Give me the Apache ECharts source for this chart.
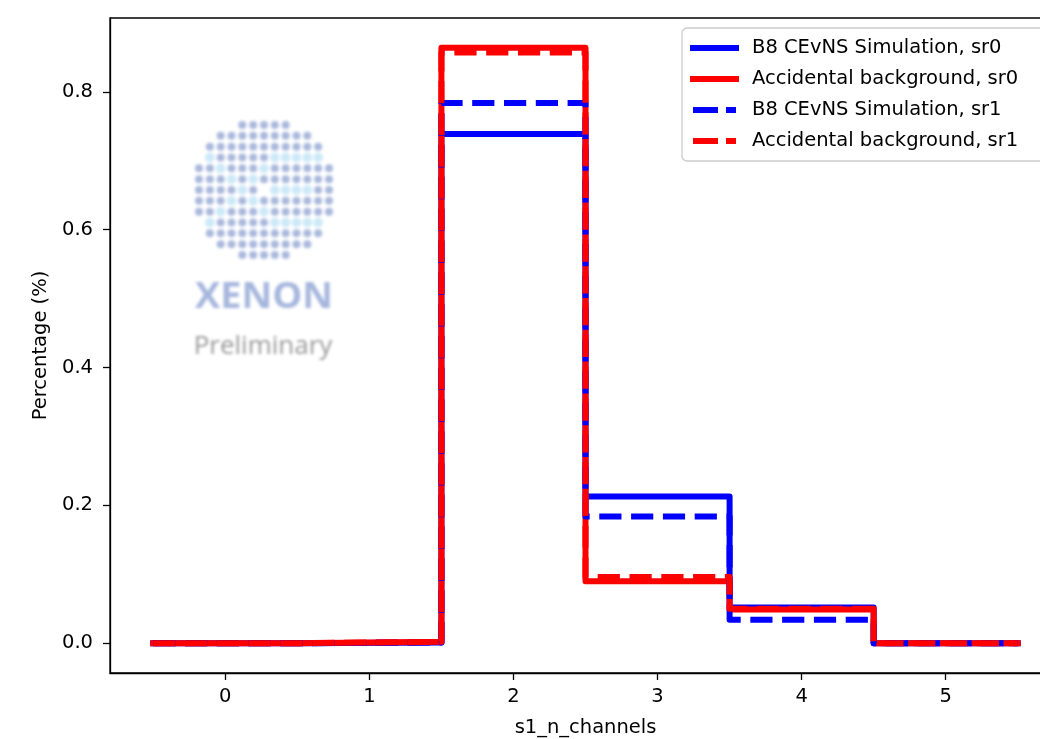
<!DOCTYPE html>
<html>
<head>
<meta charset="utf-8">
<script src="https://cdn.jsdelivr.net/npm/echarts@6/dist/echarts.min.js"></script>
<style>
  html, body { margin: 0; padding: 0; background: #fff; }
  #wrap { position: relative; width: 1040px; height: 739px; overflow: hidden; }
  #chart { position: absolute; left: 0; top: 0; width: 1061px; height: 739px; }
  #logo { position: absolute; left: 0; top: 0; width: 1040px; height: 739px; pointer-events: none; filter: blur(1.5px); }
</style>
</head>
<body>
<div id="wrap">
  <div id="chart"></div>
  <div id="logo"></div>
</div>
<script>
// Histogram bin edges (s1_n_channels, unit-width bins centred on integers)
const binEdges = [-0.5, 0.5, 1.5, 2.5, 3.5, 4.5, 5.5];

// Normalised bin contents per science run
const b8Sr0  = [0, 0.001, 0.739, 0.213, 0.052, 0];
const accSr0 = [0, 0.002, 0.864, 0.090, 0.049, 0];
const b8Sr1  = [0, 0.001, 0.784, 0.184, 0.034, 0];
const accSr1 = [0, 0.002, 0.857, 0.096, 0.050, 0];

const seriesNames = [
  'B8 CEvNS Simulation, sr0',
  'Accidental background, sr0',
  'B8 CEvNS Simulation, sr1',
  'Accidental background, sr1'
];

const xTicks = [0, 1, 2, 3, 4, 5];
const yTicks = [0, 0.2, 0.4, 0.6, 0.8];

// Outline of a step histogram: up from zero at the first edge, across each bin, down at the last edge
function stepOutline(values) {
  const pts = [[binEdges[0], 0]];
  values.forEach(function (v, i) {
    pts.push([binEdges[i], v]);
    pts.push([binEdges[i + 1], v]);
  });
  pts.push([binEdges[binEdges.length - 1], 0]);
  return pts;
}

const FONT = 'DejaVu Sans';
const LW = 6;
const DASH = [3.7 * LW, 1.6 * LW];
// legend handle: short inset, long dash, gap, short dash
const LEGEND_DASH = [0, 3, 25, 8, 10, 100];

function stepSeries(name, values, color, dashed) {
  return {
    name: name,
    type: 'line',
    data: stepOutline(values),
    symbol: 'none',
    animation: false,
    lineStyle: {
      color: color,
      width: LW,
      type: dashed ? DASH : 'solid',
      join: 'round',
      cap: dashed ? 'butt' : 'square'
    },
    itemStyle: { color: color }
  };
}

function legendEntry(name, dashed) {
  return { name: name, lineStyle: { width: LW, type: dashed ? LEGEND_DASH : 'solid', cap: 'butt' } };
}

const chart = echarts.init(document.getElementById('chart'), null, { renderer: 'canvas' });
chart.setOption({
  backgroundColor: '#ffffff',
  animation: false,
  grid: {
    left: 110, top: 18, right: 0, bottom: 66,
    outerBoundsMode: 'none', containLabel: false,
    show: true, borderColor: '#000', borderWidth: 1.3, backgroundColor: 'transparent'
  },
  xAxis: {
    type: 'value', min: -0.8, max: 5.8,
    axisLine: { show: true, onZero: false, lineStyle: { color: '#000', width: 1.3 } },
    axisTick: { show: true, inside: false, length: 7, customValues: xTicks, lineStyle: { color: '#000', width: 1.3 } },
    axisLabel: { customValues: xTicks, color: '#000', fontFamily: FONT, fontSize: 19.5, margin: 14,
                 formatter: function (v) { return String(v); } },
    splitLine: { show: false },
    name: 's1_n_channels', nameLocation: 'middle', nameGap: 45,
    nameTextStyle: { color: '#000', fontFamily: FONT, fontSize: 19.5 }
  },
  yAxis: {
    type: 'value', min: -0.0432, max: 0.9072,
    axisLine: { show: true, onZero: false, lineStyle: { color: '#000', width: 1.3 } },
    axisTick: { show: true, inside: false, length: 7, customValues: yTicks, lineStyle: { color: '#000', width: 1.3 } },
    axisLabel: { customValues: yTicks, color: '#000', fontFamily: FONT, fontSize: 19.5, margin: 17,
                 formatter: function (v) { return v.toFixed(1); } },
    splitLine: { show: false },
    name: 'Percentage (%)', nameLocation: 'middle', nameGap: 57, nameRotate: 90,
    nameTextStyle: { color: '#000', fontFamily: FONT, fontSize: 19.5 }
  },
  legend: {
    orient: 'vertical',
    left: 682, top: 28,
    padding: [10, 80, 10, 5],
    itemWidth: 49, itemHeight: 0.1, itemGap: 11,
    backgroundColor: 'rgba(255,255,255,0.8)',
    borderColor: '#cccccc', borderWidth: 1.3, borderRadius: 5,
    textStyle: { color: '#000', fontFamily: FONT, fontSize: 19.5, lineHeight: 20, padding: [0, 0, 0, 8] },
    data: [
      legendEntry(seriesNames[0], false),
      legendEntry(seriesNames[1], false),
      legendEntry(seriesNames[2], true),
      legendEntry(seriesNames[3], true)
    ]
  },
  series: [
    stepSeries(seriesNames[0], b8Sr0, '#0000ff', false),
    stepSeries(seriesNames[1], accSr0, '#ff0000', false),
    stepSeries(seriesNames[2], b8Sr1, '#0000ff', true),
    stepSeries(seriesNames[3], accSr1, '#ff0000', true)
  ]
});

// Collaboration watermark: dotted disc with the logo mark, name and "Preliminary"
const logo = echarts.init(document.getElementById('logo'), null, { renderer: 'canvas' });
const rowCounts = [5, 9, 11, 11, 13, 13, 13, 13, 13, 11, 11, 9, 5];
const highlight = {
  3: [1, 7, 8, 9, 10, 11],
  4: [2, 6],
  5: [3, 5],
  6: [4, 7, 8, 9, 10],
  7: [3, 5],
  8: [2, 6],
  9: [1, 7, 8, 9, 10, 11]
};
const cx = 264, cy = 190, pitch = 10.83;
const dots = [];
rowCounts.forEach(function (n, r) {
  const first = (13 - n) / 2;
  for (let k = 0; k < n; k++) {
    const c = first + k;
    if (r === 6 && c === 6) continue;
    const hl = highlight[r] && highlight[r].indexOf(c) >= 0;
    dots.push({
      type: 'circle',
      shape: { cx: cx + (c - 6) * pitch, cy: cy + (r - 6) * pitch, r: hl ? 4.8 : 4.0 },
      style: { fill: hl ? '#cde9f8' : '#a9b8dc' },
      silent: true
    });
  }
});
logo.setOption({
  animation: false,
  graphic: dots.concat([
    {
      type: 'text', x: 264, y: 298, silent: true,
      style: { text: 'XENON', fill: '#a6b6dd', font: 'bold 35px "Open Sans"',
               textAlign: 'center', textVerticalAlign: 'middle' },
      scaleX: 1.08
    },
    {
      type: 'text', x: 263, y: 347, silent: true,
      style: { text: 'Preliminary', fill: '#999999', font: '26px "Open Sans"',
               textAlign: 'center', textVerticalAlign: 'middle' }
    }
  ])
});
</script>
</body>
</html>
